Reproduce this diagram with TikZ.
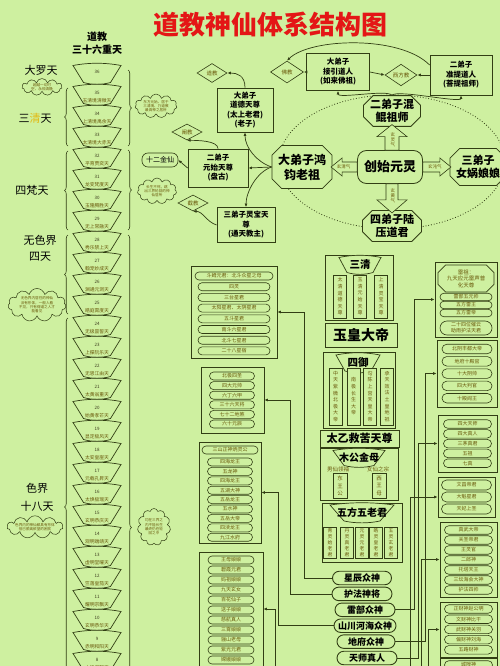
\documentclass[tikz,border=0pt]{standalone}
\usepackage{fontspec}
\setmainfont{Noto Sans CJK SC}
\usetikzlibrary{arrows.meta,positioning,calc,shapes.geometric,shapes.misc,shapes.symbols,decorations.pathreplacing}
\definecolor{bgcol}{RGB}{206,240,160}
\definecolor{lncol}{RGB}{50,62,20}
\definecolor{titlecol}{RGB}{228,22,22}
\definecolor{txtcol}{RGB}{105,88,10}
\definecolor{numcol}{RGB}{60,60,30}
\definecolor{hlcol}{RGB}{226,186,20}
% fan outline: top half width, bottom half width, half height
\newcommand{\fanpath}[3]{(-#1,-#3) .. controls (-#1/3,-#3-3) and (#1/3,-#3-3) .. (#1,-#3) -- (#2,#3) .. controls (#2/3,#3+2.5) and (-#2/3,#3+2.5) .. (-#2,#3) -- cycle}
% block arrow pointing along x: length, body half, head half, head length
\newcommand{\qishape}[4]{(0,-#2) -- (#1-#4,-#2) -- (#1-#4,-#3) -- (#1,0) -- (#1-#4,#3) -- (#1-#4,#2) -- (0,#2) -- cycle}
\tikzset{
  fanline/.style={draw=lncol, line width=0.7pt, fill=bgcol},
  numtxt/.style={font=\fontsize{4.5}{5}\selectfont, text=numcol, inner sep=0pt},
  heavtxt/.style={font=\fontsize{4.8}{5}\selectfont, text=txtcol, inner sep=0pt},
  bracel/.style={draw=lncol, line width=0.6pt, decorate, decoration={brace, amplitude=3.5pt}},
  realm/.style={font=\fontsize{11}{13}\selectfont, align=center, inner sep=0pt},
  cloudbox/.style={cloud, cloud puffs=11, cloud ignores aspect, draw=lncol, line width=0.5pt, fill=bgcol, text=txtcol, font=\fontsize{3.6}{4.3}\selectfont, align=center, inner sep=0pt},
  godbox/.style={draw=lncol, line width=0.8pt, fill=bgcol, font=\fontsize{7.5}{9.5}\selectfont\bfseries, align=center, inner sep=1pt},
  sect/.style={diamond, draw=lncol, line width=0.6pt, fill=bgcol, font=\fontsize{5.5}{6}\selectfont, text=txtcol, inner sep=0pt},
  octbox/.style={chamfered rectangle, chamfered rectangle xsep=6pt, draw=lncol, line width=0.8pt, fill=bgcol, font=\fontsize{11}{13}\selectfont\bfseries, align=center, inner sep=0pt},
  qiline/.style={draw=lncol, line width=0.6pt, fill=bgcol},
  qitxt/.style={text=txtcol, font=\fontsize{4.5}{5}\selectfont, align=center, inner sep=0pt},
  link/.style={draw=lncol, line width=0.7pt, -{Latex[length=3.5pt,width=3pt]}},
  panel/.style={draw=lncol, line width=0.8pt, fill=bgcol, inner sep=0pt},
  pill/.style={rounded rectangle, draw=lncol, line width=0.6pt, fill=bgcol, text=txtcol, font=\fontsize{5}{5.5}\selectfont, minimum height=8pt, inner sep=0pt},
  vbox/.style={draw=lncol, line width=0.6pt, fill=bgcol, text=txtcol, font=\fontsize{5}{6.6}\selectfont, align=center, minimum width=13pt, inner sep=0pt},
  headtxt/.style={font=\fontsize{10.5}{11}\selectfont\bfseries, inner sep=0pt},
  bigpill/.style={rounded rectangle, draw=lncol, line width=0.9pt, fill=bgcol, font=\fontsize{9}{9}\selectfont\bfseries, minimum height=13.5pt, inner sep=0pt},
}
\begin{document}
\begin{tikzpicture}[x=1pt, y=-1pt]
\useasboundingbox (0,0) rectangle (500,666);
\fill[bgcol] (0,0) rectangle (500,666);
\clip (0,0) rectangle (500,666);

% title
\node[font=\fontsize{26}{26}\selectfont\bfseries, text=titlecol] (title) at (270,25) {道教神仙体系结构图};
\node[font=\fontsize{10}{13}\selectfont\bfseries, align=center] (head) at (97,43.5) {道教\\三十六重天};

% the 36 heavens
\foreach \n/\hname in {36/{},35/玉清境清微天,34/上清境禹余天,33/太清境大赤天,32/平育贾奕天,31/龙变梵度天,30/玉隆腾胜天,29/无上常融天,28/秀乐禁上天,27/翰宠妙成天,26/渊通元洞天,25/皓庭霄度天,24/无极昙誓天,23/上揲阮乐天,22/无思江由天,21/太黄翁重天,20/始黄孝芒天,19/显定极风天,18/太安皇崖天,17/元载孔昇天,16/太焕极瑶天,15/玄明恭庆天,14/观明端靖天,13/虚明堂曜天,12/竺落皇笳天,11/耀明宗飘天,10/玄明恭华天,9/赤明和阳天,8/太极濛翳天}{
  \pgfmathsetmacro\yy{72+21*(36-\n)}
  \draw[fanline, shift={(97,\yy+2)}] \fanpath{24}{13.5}{8.5};
  \node[numtxt] (num\n) at (97,\yy) {\n};
  \node[heavtxt] (hv\n) at (97,\yy+7.5) {\hname};
}

% braces
\draw[bracel] (68,146) -- (68,88);
\draw[bracel] (68,230) -- (68,151);
\draw[bracel] (68,314) -- (68,235);
\draw[bracel] (68,696) -- (68,318);
\draw[bracel] (128,70) -- (128,146);
\draw[bracel] (128,150) -- (128,230);
\draw[bracel] (128,235) -- (128,820);

% realm labels and notes
\node[realm] (dalo) at (41,70) {大罗天};
\node[cloudbox, minimum width=40pt, minimum height=15pt] (note1) at (42,87) {超越一切时\\空、永恒清静};
\node[realm] (sanqt) at (35,118) {三\textcolor{hlcol}{清}天};
\node[realm] (sifan) at (32,190) {四梵天};
\node[realm, font=\fontsize{11}{16}\selectfont] (wuse) at (40,248) {无色界\\四天};
\node[cloudbox, minimum width=58pt, minimum height=31pt] (note4) at (37,305) {无色界内居住的神仙\\没有形体，一般人看\\不见，只有得道之人才\\能看见};
\node[realm, font=\fontsize{11}{18}\selectfont] (sejie) at (37,497) {色界\\十八天};
\node[cloudbox, minimum width=50pt, minimum height=17pt] (note5) at (35,527) {色界内的神仙都具有形体\\但已脱离欲望的困扰};
\node[cloudbox, minimum width=42pt, minimum height=23pt] (note2) at (156,106) {东方元始、居于\\三清境、乃道教\\最高神之居所};
\node[cloudbox, minimum width=39pt, minimum height=26pt] (note3) at (157,191) {长生不死，跳\\出三界轮回的神\\仙居所};
\node[cloudbox, minimum width=33pt, minimum height=37pt] (note6) at (154,527) {均在三界之\\内不能长生\\最终仍在轮\\回之中};

% creation circle
\draw[lncol, dotted, line width=0.8pt] (392,162) ellipse [x radius=113pt, y radius=67pt];

\node[godbox, minimum width=56pt, minimum height=44pt] (laozi) at (245,110) {大弟子\\道德天尊\\(太上老君)\\(老子)};
\node[godbox, minimum width=63pt, minimum height=37pt] (jieyin) at (338,72) {大弟子\\接引道人\\(如来佛祖)};
\node[godbox, minimum width=62pt, minimum height=40pt] (zhunti) at (461,75) {二弟子\\准提道人\\(菩提祖师)};
\node[godbox, minimum width=60pt, minimum height=38pt] (yuanshi) at (218,168) {二弟子\\元始天尊\\(盘古)};
\node[godbox, minimum width=58pt, minimum height=35pt] (lingbao) at (246,225) {三弟子灵宝天\\尊\\(通天教主)};
\node[octbox, minimum width=58pt, minimum height=43pt, font=\fontsize{12}{15}\selectfont\bfseries] (hongjun) at (302,167) {大弟子鸿\\钧老祖};
\node[octbox, minimum width=57pt, minimum height=28pt] (hunkun) at (392,111) {二弟子混\\鲲祖师};
\node[draw=lncol, line width=0.8pt, fill=bgcol, rounded corners=9pt, minimum width=65pt, minimum height=33pt, font=\fontsize{13}{13}\selectfont\bfseries] (cysy) at (390,167) {创始元灵};
\node[octbox, minimum width=56pt, minimum height=37pt] (nvwa) at (478,167) {三弟子\\女娲娘娘};
\node[octbox, minimum width=59pt, minimum height=28pt] (luya) at (392,226) {四弟子陆\\压道君};

\node[sect, minimum width=30pt, minimum height=19pt] (daojiao) at (212,73) {道教};
\node[sect, minimum width=33pt, minimum height=22pt] (fojiao) at (287,72) {佛教};
\node[sect, minimum width=32pt, minimum height=20pt] (xifang) at (401,75) {西方教};
\node[sect, minimum width=30pt, minimum height=16pt] (chanjiao) at (187,132) {阐教};
\node[sect, minimum width=30pt, minimum height=14pt] (jiejiao) at (193,203) {截教};
\node[draw=lncol, line width=0.6pt, fill=bgcol, rounded corners=6pt, minimum width=36pt, minimum height=14pt, font=\fontsize{7}{7}\selectfont] (jinxian) at (160,160) {十二金仙};

% qi arrows out of the primal spirit
\draw[qiline, shift={(cysy.west)}, rotate=180] \qishape{26}{5}{9}{11};
\draw[qiline, shift={(cysy.east)}] \qishape{28}{5}{9}{11};
\draw[qiline, shift={(hunkun.south |- cysy.north)}, rotate=90] \qishape{25.5}{7}{15}{12};
\draw[qiline, shift={(luya.north |- cysy.south)}, rotate=270] \qishape{29}{6}{15}{13};
\node[qitxt] (qileft) at ($(hongjun.east)!0.45!(cysy.west)$) {玄清气};
\node[qitxt] (qiright) at ($(cysy.east)!0.45!(nvwa.west)$) {玄沌气};
\node[qitxt] (qiup) at ($(cysy.north)!0.45!(hunkun.south)+(2,0)$) {玄\\灵\\气};
\node[qitxt] (qidown) at ($(cysy.south)!0.45!(luya.north)+(2,0)$) {玄\\黄\\气};

\draw[link] (hongjun.west) .. controls +(-15,-5) and +(0,15) .. (laozi.south);
\draw[link] (hongjun.west) -- (yuanshi.east);
\draw[link] (hongjun.west) .. controls +(-15,5) and +(0,-15) .. (lingbao.north);
\draw[link] (laozi.north) .. controls +(0,-12) and +(10,0) .. (daojiao.east);
\draw[link] (yuanshi.north) .. controls +(0,-8) and +(10,0) .. (chanjiao.south);
\draw[link] (lingbao.west) .. controls +(-10,-3) and +(10,0) .. (jiejiao.south);
\draw[link] (yuanshi.west) -- (jinxian.east);
\draw[link] (jieyin.west) -- (fojiao.east);
\draw[link] (jieyin.east) -- (xifang.west);
\draw[link] (zhunti.west) -- (xifang.east);
\draw[link] ($(zhunti.west)+(0,-10)$) .. controls (400,35) and (310,38) .. (fojiao.north);
\draw[link] (hunkun.north) .. controls +(-5,-6) and +(0,8) .. (jieyin.south);
\draw[link] (hunkun.north) .. controls +(5,-6) and +(0,8) .. (zhunti.south);

% central column
\node[panel, minimum width=68pt, minimum height=65pt] (sqpanel) at (359,287.5) {};
\draw[fanline, shift={(360,265)}] \fanpath{21}{13}{7.5};
\node[headtxt] (sqhead) at (360,265) {三清};
\foreach \x/\vtxt in {340/{太\\清\\道\\德\\天\\尊},360/{玉\\清\\元\\始\\天\\尊},381/{上\\清\\灵\\宝\\天\\尊}}
  \node[vbox, minimum height=43pt] (sq\x) at (\x,296.5) {\vtxt};
\node[godbox, minimum width=72pt, minimum height=24pt, font=\fontsize{14}{14}\selectfont\bfseries] (yuhuang) at (361,335) {玉皇大帝};
\node[panel, minimum width=72pt, minimum height=76pt] (sypanel) at (359,390) {};
\draw[fanline, shift={(358,363)}] \fanpath{22}{13}{8};
\node[headtxt] (syhead) at (358,363) {四御};
\foreach \x/\vtxt in {335.5/{中\\天\\紫\\微\\北\\极\\大\\帝},353.5/{南\\极\\长\\生\\大\\帝},370/{勾\\陈\\上\\宫\\天\\皇\\大\\帝},387/{承\\天\\效\\法\\土\\皇\\地\\祇}}
  \node[vbox, minimum height=57pt] (sy\x) at (\x,396.5) {\vtxt};
\node[godbox, minimum width=79pt, minimum height=17pt, font=\fontsize{11}{11}\selectfont\bfseries] (taiyi) at (359.5,438.5) {太乙救苦天尊};
\node[panel, minimum width=78pt, minimum height=52pt] (mgpanel) at (359,474) {};
\draw[fanline, shift={(359,458)}] \fanpath{26}{15}{7.5};
\node[headtxt, font=\fontsize{10}{10}\selectfont\bfseries] (mghead) at (359,458) {木公金母};
\node[font=\fontsize{5.5}{6}\selectfont, text=txtcol] (nanxian) at (338,469) {男仙领袖};
\node[font=\fontsize{5.5}{6}\selectfont, text=txtcol] (nvxian) at (378,469) {女仙之宗};
\node[vbox, minimum height=25pt, minimum width=14pt, font=\fontsize{5.5}{7.5}\selectfont] (dwg) at (340,486) {东\\王\\公};
\node[vbox, minimum height=25pt, minimum width=14pt, font=\fontsize{5.5}{7.5}\selectfont] (xwm) at (379,486) {西\\王\\母};
\node[panel, minimum width=80pt, minimum height=59pt] (wfpanel) at (362,532.5) {};
\draw[fanline, shift={(362,513)}] \fanpath{32}{18}{8};
\node[headtxt, font=\fontsize{10}{10}\selectfont\bfseries] (wfhead) at (362,513) {五方五老君};
\foreach \x/\vtxt in {330/{青\\灵\\始\\老\\君},347/{丹\\灵\\真\\老\\君},362/{元\\灵\\元\\老\\君},376/{皓\\灵\\皇\\老\\君},391/{五\\灵\\玄\\老\\君}}
  \node[vbox, minimum height=31pt, font=\fontsize{4.8}{6}\selectfont] (wf\x) at (\x,542.5) {\vtxt};

% groups of deities
\node[bigpill, minimum width=59pt] (xingchen) at (362,578) {星辰众神};
\node[bigpill, minimum width=60pt, below=1.5pt of xingchen] (hufa) {护法神将};
\node[bigpill, minimum width=60pt, below=1.5pt of hufa, xshift=3pt] (leibu) {雷部众神};
\node[bigpill, minimum width=62pt, below=1.5pt of leibu] (shanchuan) {山川河海众神};
\node[bigpill, minimum width=58pt, below=1.5pt of shanchuan, xshift=1pt] (difu) {地府众神};
\node[bigpill, minimum width=60pt, below=2pt of difu, xshift=1pt] (tianshi) {天师真人};

% left lists
\node[panel, minimum width=86pt, minimum height=92pt] (starbox) at (234,312) {};
\node[pill, minimum width=78pt] (st1) at (234,276) {斗姆元君：北斗众星之母};
\foreach \vtxt [count=\i from 2] in {四灵,三台星君,太阳星君、太阴星君,五斗星君,南斗六星君,北斗七星君,二十八星宿}
  \node[pill, minimum width=72pt] (st\i) at (234,{276+10.7*(\i-1)}) {\vtxt};
\node[panel, minimum width=63pt, minimum height=66pt] (guardbox) at (232.5,400) {};
\foreach \vtxt [count=\i] in {北极四圣,四大元帅,六丁六甲,三十六天将,七十二地煞,六十元辰}
  \node[pill, minimum width=45pt] (gd\i) at (232,{376+9.6*(\i-1)}) {\vtxt};
\node[panel, minimum width=62pt, minimum height=101pt] (waterbox) at (230,492.5) {};
\node[pill, minimum width=56pt] (wt0) at (230,450) {三山正神炳灵公};
\foreach \vtxt [count=\i] in {四海龙王,五龙神,四海龙王,五湖大神,五岳龙王,五水神,五岳大帝,四渎龙王,九江水府}
  \node[pill, minimum width=45pt] (wt\i) at (230,{462+9.4*(\i-1)}) {\vtxt};
\node[panel, minimum width=64pt, minimum height=114pt] (femalebox) at (231,609) {};
\foreach \vtxt [count=\i] in {王母娘娘,碧霞元君,妈祖娘娘,九天玄女,百花仙子,送子娘娘,慈航真人,三霄娘娘,骊山老母,紫光元君,嫦娥娘娘}
  \node[pill, minimum width=46pt] (fm\i) at (231,{560+10*(\i-1)}) {\vtxt};

% right lists
\node[panel, minimum width=62pt, minimum height=75pt] (thunderbox) at (466,299.5) {};
\node[octbox, chamfered rectangle xsep=4pt, minimum width=56pt, minimum height=27pt, font=\fontsize{5.5}{6.5}\selectfont, text=txtcol, line width=0.6pt] (leizu) at (466,278.5) {雷祖：\\九天应元雷声普\\化天尊};
\foreach \vtxt [count=\i] in {雷部五元帅,五方雷王,五方雷帝}
  \node[pill, minimum width=52pt, minimum height=7.5pt] (th\i) at (466,{297+8*(\i-1)}) {\vtxt};
\node[pill, minimum width=52pt, minimum height=14pt, align=center, font=\fontsize{5}{6}\selectfont] (th4) at (466,328) {二十四位催云\\助雨护法天君};
\node[panel, minimum width=60pt, minimum height=67pt] (hellbox) at (467,373.5) {};
\foreach \vtxt [count=\i] in {北阴丰都大帝,地府十殿官,十大阴帅,四大判官,十殿阎王}
  \node[pill, minimum width=50pt, minimum height=9.5pt] (hl\i) at (467,{349+12.3*(\i-1)}) {\vtxt};
\node[panel, minimum width=59pt, minimum height=57pt] (masterbox) at (467.5,443.5) {};
\foreach \vtxt [count=\i] in {四大天师,四大真人,三茅真君,五祖,七真}
  \node[pill, minimum width=48pt, minimum height=8.5pt] (ms\i) at (467.5,{424+9.8*(\i-1)}) {\vtxt};
\node[panel, minimum width=57pt, minimum height=40pt] (wenbox) at (466.5,497) {};
\foreach \vtxt [count=\i] in {文昌帝君,大魁星君,天妃上圣}
  \node[pill, minimum width=50pt, minimum height=10pt] (wn\i) at (466.5,{485+12*(\i-1)}) {\vtxt};
\node[panel, minimum width=57pt, minimum height=75pt] (guardianbox) at (468.5,559.5) {};
\foreach \vtxt [count=\i] in {真武大帝,关圣帝君,王灵官,二郎神,托塔天王,三坛海会大神,护法四帅}
  \node[pill, minimum width=48pt, minimum height=8.5pt] (gn\i) at (468.5,{530+10*(\i-1)}) {\vtxt};
\node[panel, minimum width=57pt, minimum height=55pt] (wealthbox) at (468.5,629.5) {};
\foreach \vtxt [count=\i] in {正财神赵公明,文财神比干,武财神关羽,偏财神刘海,五路财神}
  \node[pill, minimum width=48pt, minimum height=8.5pt] (wl\i) at (468.5,{609+10.2*(\i-1)}) {\vtxt};
\node[panel, minimum width=57pt, minimum height=50pt] (citybox) at (468.5,683) {};
\node[pill, minimum width=48pt, minimum height=8.5pt] (ct1) at (468.5,665) {城隍神};

% connectors of the lower part
\coordinate (offD) at (275,680);
\coordinate (offW) at (410,680);
\coordinate (offG) at (421,680);
\coordinate (offL) at (428,680);
\draw[link] (xingchen.west) -- ++(-28,0) |- (starbox.east);
\draw[link] (hufa.west) -- ++(-41,0) |- (guardbox.east);
\draw[link] (shanchuan.west) -- ++(-55,0) |- (waterbox.east);
\draw[link] (offD) |- (femalebox.east);
\draw[link] (leibu.east) -- ++(19,0) |- (thunderbox.west);
\draw[link] (difu.east) -- ++(30,0) |- (hellbox.west);
\draw[link] (tianshi.east) -- ++(21,0) |- (masterbox.west);
\draw[link] (offW) |- (wenbox.west);
\draw[link] (offG) |- (guardianbox.west);
\draw[link] (offL) |- (wealthbox.west);
\end{tikzpicture}
\end{document}
